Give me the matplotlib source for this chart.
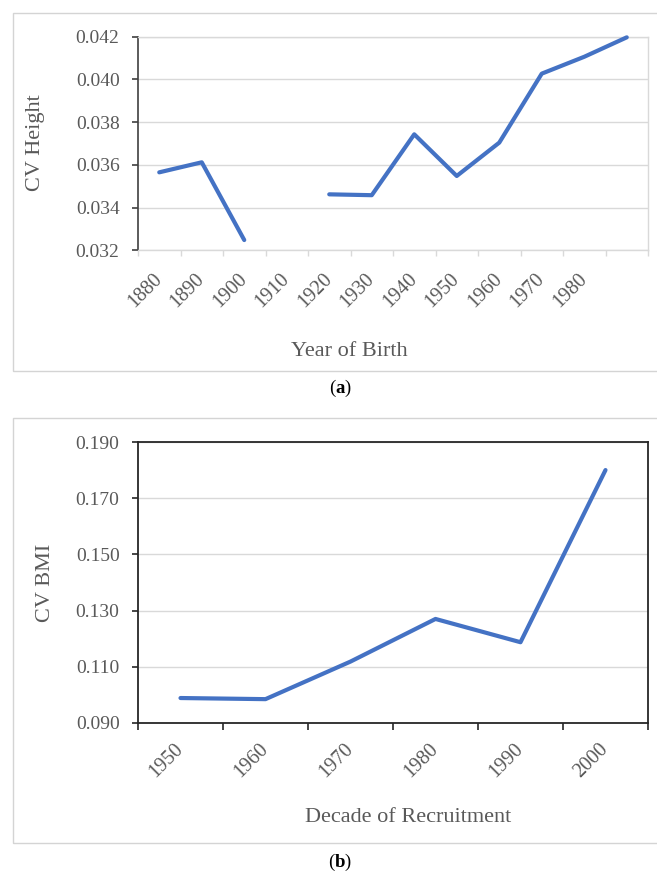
import matplotlib.pyplot as plt
import matplotlib.patches as patches
import numpy as np

plt.rcParams['font.family'] = ['Liberation Serif', 'DejaVu Serif']
plt.rcParams['mathtext.fontset'] = 'custom'
plt.rcParams['mathtext.rm'] = 'Liberation Serif'
plt.rcParams['mathtext.bf'] = 'Liberation Serif:bold'

# panel (a): CV of height by year of birth (1910 missing)
birth_labels = ['1880', '1890', '1900', '1910', '1920', '1930',
                '1940', '1950', '1960', '1970', '1980', '']
cv_height = [0.03565, 0.03612, 0.03248, np.nan, 0.03462, 0.03458,
             0.03743, 0.03548, 0.03704, 0.04027, 0.04106, 0.04197]
height_ticks = [0.032, 0.034, 0.036, 0.038, 0.040, 0.042]

# panel (b): CV of BMI by decade of recruitment
decade_labels = ['1950', '1960', '1970', '1980', '1990', '2000']
cv_bmi = [0.0988, 0.0984, 0.1118, 0.1270, 0.1187, 0.1801]
bmi_ticks = [0.090, 0.110, 0.130, 0.150, 0.170, 0.190]

line_col = '#4472C4'
txt_col = '#595959'
grid_col = '#d9d9d9'

W, H = 657, 873
fig = plt.figure(figsize=(W / 100, H / 100), dpi=100)


def fx(px):
    return px / W


def fy(py):
    return 1 - py / H


# panel frames
for top, bot in [(13, 371), (418, 843)]:
    fig.add_artist(patches.Rectangle((fx(13), fy(bot)), 1.2, fy(top) - fy(bot),
                                     transform=fig.transFigure, fill=False,
                                     ec='#d4d4d4', lw=1.0))

ax1 = fig.add_axes([fx(138), fy(250.3), fx(648) - fx(138), fy(36.7) - fy(250.3)])
ax2 = fig.add_axes([fx(138), fy(722.7), fx(648) - fx(138), fy(442.3) - fy(722.7)])

# ---- (a)
x1 = np.arange(len(birth_labels))
ax1.plot(x1, cv_height, color=line_col, lw=3.0, solid_capstyle='round',
         zorder=3, clip_on=False)
ax1.set_xlim(-0.5, len(birth_labels) - 0.5)
ax1.set_ylim(0.032, 0.042)
ax1.set_yticks(height_ticks)
ax1.set_yticklabels(['%.3f' % v for v in height_ticks])
ax1.set_xticks(x1)
ax1.set_xticklabels(birth_labels, rotation=45, ha='right', va='center',
                    rotation_mode='anchor')
ax1.set_xticks(np.arange(len(birth_labels) + 1) - 0.5, minor=True)
ax1.tick_params(axis='x', which='major', length=0, pad=19, labelsize=14.5, labelcolor=txt_col)
ax1.tick_params(axis='x', which='minor', length=4, width=1, color=grid_col)
ax1.tick_params(axis='y', length=4.3, width=1.2, color='#404040', pad=9,
                labelsize=14, labelcolor=txt_col)
ax1.yaxis.grid(True, color=grid_col, lw=1)
ax1.set_axisbelow(True)
ax1.spines['left'].set_color('#404040')
ax1.spines['left'].set_linewidth(1.2)
for s in ['bottom', 'right', 'top']:
    ax1.spines[s].set_color(grid_col)
    ax1.spines[s].set_linewidth(1)

fig.text(fx(35.5), fy(143), 'CV Height', rotation=90, ha='center', va='center',
         fontsize=16, color=txt_col)
fig.text(fx(349), fy(352), 'Year of Birth', ha='center', va='center',
         fontsize=16, color=txt_col)
fig.text(fx(340), fy(388), r'($\mathbf{a}$)', ha='center', va='center', fontsize=13.5)

# ---- (b)
x2 = np.arange(len(decade_labels))
ax2.plot(x2, cv_bmi, color=line_col, lw=3.0, solid_capstyle='round',
         zorder=3, clip_on=False)
ax2.set_xlim(-0.5, len(decade_labels) - 0.5)
ax2.set_ylim(0.090, 0.190)
ax2.set_yticks(bmi_ticks)
ax2.set_yticklabels(['%.3f' % v for v in bmi_ticks])
ax2.set_xticks(x2)
ax2.set_xticklabels(decade_labels, rotation=45, ha='right', va='center',
                    rotation_mode='anchor')
ax2.set_xticks(np.arange(len(decade_labels) + 1) - 0.5, minor=True)
ax2.tick_params(axis='x', which='major', length=0, pad=17, labelsize=14.5, labelcolor=txt_col)
ax2.tick_params(axis='x', which='minor', length=5, width=1.2, color='#262626')
ax2.tick_params(axis='y', length=4.3, width=1.2, color='#262626', pad=9,
                labelsize=14, labelcolor=txt_col)
ax2.yaxis.grid(True, color=grid_col, lw=1)
ax2.set_axisbelow(True)
for s in ['bottom', 'right', 'top', 'left']:
    ax2.spines[s].set_color('#262626')
    ax2.spines[s].set_linewidth(1.3)

fig.text(fx(45), fy(582.5), 'CV BMI', rotation=90, ha='center', va='center',
         fontsize=16, color=txt_col)
fig.text(fx(408), fy(817), 'Decade of Recruitment', ha='center', va='center',
         fontsize=16, color=txt_col)
fig.text(fx(340), fy(862), r'($\mathbf{b}$)', ha='center', va='center', fontsize=13.5)

fig.savefig('out.png', dpi=100)
